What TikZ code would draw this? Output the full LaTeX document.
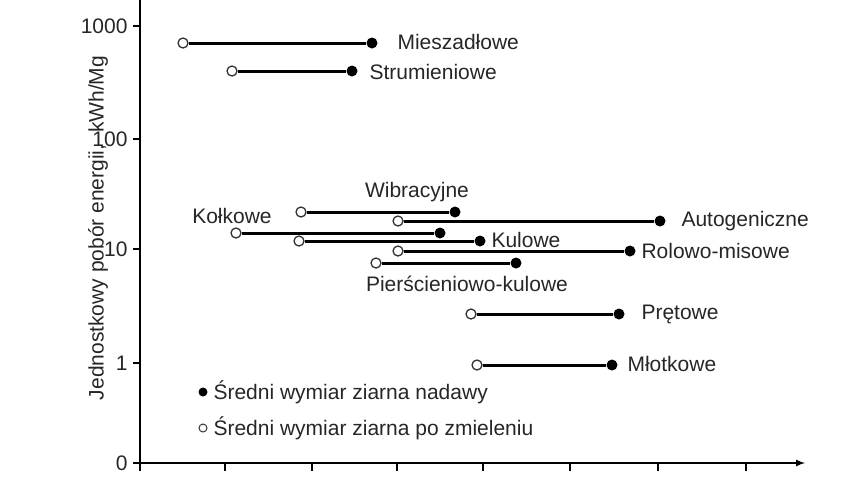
\documentclass[tikz,border=0pt]{standalone}
\usepackage{fontspec}
\setmainfont{Liberation Sans}
\begin{document}
\begin{tikzpicture}[x=1pt,y=-1pt,
  lab/.style={font=\fontsize{21pt}{24pt}\selectfont,text=black!85},
  op/.style={circle,draw=black!80,fill=white,line width=1.3pt,inner sep=0pt,minimum size=10pt},
  fl/.style={circle,fill=black,inner sep=0pt,minimum size=11pt},
  seg/.style={line width=3pt},
  ax/.style={line width=2pt}]
\useasboundingbox (0,0) rectangle (853,480);
\draw[ax] (140,0) -- (140,463);
\draw[ax,-latex] (140,463) -- (805,463);
\foreach \x in {140,225,312,397,483,570,658,746}{\draw[line width=1.3pt] (\x,463) -- (\x,471);}
\foreach \y/\t in {26/1000,139/100,249/10,363/1,463/0}{
  \draw[line width=1.3pt] (133,\y) -- (140,\y);
  \node[lab,anchor=east] at (131,\y) {\t};}
\node[lab,rotate=90] at (98,228) {Jednostkowy pobór energii,\ \ kWh/Mg};
\foreach \n/\a/\b/\y in {mi/183/372/43,st/232/352/71,wi/301/455/212,au/398/660/221,ko/236/440/233,ku/299/480/241,ro/398/630/251,pi/376/516/263,pr/471/619/314,ml/477/612/365}{
  \node[op] (\n o) at (\a,\y) {};
  \node[fl] (\n f) at (\b,\y) {};
  \draw[seg] (\n o) -- (\n f);}
\node[lab,anchor=west] at (394,42) {Mieszadłowe};
\node[lab,anchor=west] at (366,72) {Strumieniowe};
\node[lab] at (417,192) {Wibracyjne};
\node[lab,anchor=west] at (678,221) {Autogeniczne};
\node[lab] at (232,216) {Kołkowe};
\node[lab,anchor=west] at (488,240) {Kulowe};
\node[lab,anchor=west] at (638,251) {Rolowo-misowe};
\node[lab] at (467,284) {Pierścieniowo-kulowe};
\node[lab,anchor=west] at (638,314) {Prętowe};
\node[lab,anchor=west] at (624,364) {Młotkowe};
\node[fl,minimum size=9pt] (lf) at (203,392) {};
\node[lab,anchor=west] at (210,392) {Średni wymiar ziarna nadawy};
\node[op,minimum size=8pt,line width=1pt] (lo) at (203,428) {};
\node[lab,anchor=west] at (210,428) {Średni wymiar ziarna po zmieleniu};
\end{tikzpicture}
\end{document}
